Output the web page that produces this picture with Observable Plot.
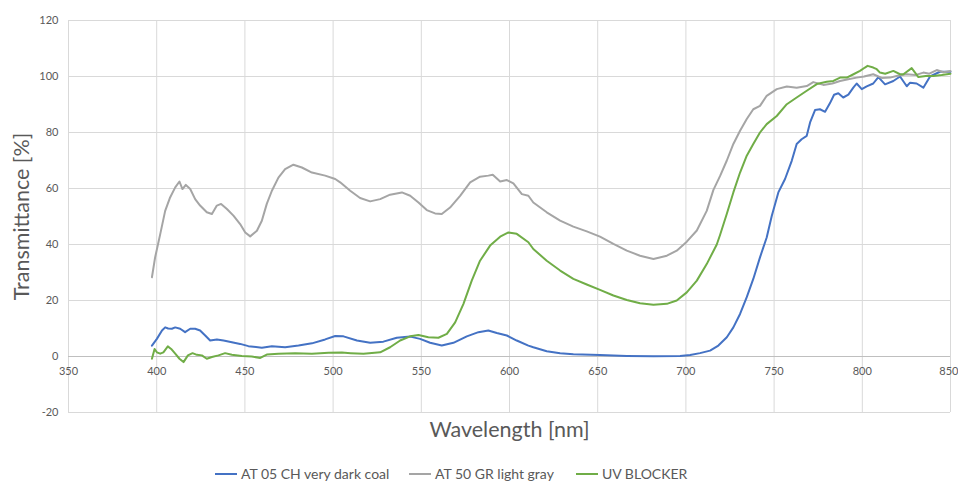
<!DOCTYPE html>
<html>
<head>
<meta charset="utf-8">
<script src="https://cdn.jsdelivr.net/npm/d3@7"></script>
<script src="https://cdn.jsdelivr.net/npm/@observablehq/plot@0.6"></script>
<style>
  html, body { margin: 0; padding: 0; background: #ffffff; }
  #wrap { width: 958px; height: 483px; position: relative; font-family: Lato, "Open Sans", sans-serif; }
  #chart svg { display: block; }
  #legend { position: relative; width: 958px; height: 28px; }
  .item { position: absolute; top: 10px; display: flex; align-items: center; font-size: 14px; color: #595959; white-space: nowrap; }
  .swatch { display: inline-block; width: 22px; height: 2px; margin-right: 4px; }
</style>
</head>
<body>
<div id="wrap">
  <div id="chart"></div>
  <div id="legend"></div>
</div>
<script>
// ---- Axis ticks ----
const wavelengthTicks = [350, 400, 450, 500, 550, 600, 650, 700, 750, 800, 850];
const transmittanceTicks = [-20, 0, 20, 40, 60, 80, 100, 120];
const xLabel = "Wavelength [nm]";
const yLabel = "Transmittance [%]";

// ---- Series names & colours ----
const seriesNames = ["AT 05 CH very dark coal", "AT 50 GR light gray", "UV BLOCKER"];
const seriesColors = ["#4472C4", "#A5A5A5", "#70AD47"];

// ---- AT 05 CH very dark coal ----
const coalNm = [397.3,400.1,403,404.8,406.5,408.6,410.5,413.3,416.1,419,421.8,424.6,427.5,430.3,434.1,437.9,442.6,447.3,452,459.6,465.3,472.8,480.4,488,495.5,501.2,505.9,513.5,521,528.5,536.1,543.7,549.3,555,561.6,568.2,575.8,582.4,588,592.8,598.5,604.1,610.7,613.5,621.1,628.7,636.2,651.3,666.5,681.6,696.7,702.4,708,713.7,718.4,723.2,726.9,730.7,734.5,738.2,742,745.8,748.7,752.4,756.2,760,762.8,765.6,768.5,770.4,773.2,776,778.9,781.7,784,786.4,789.2,792.1,794.9,796.8,799.7,802.5,806.2,809.1,812.9,817.6,821.4,825.2,827.1,830.8,834.6,838.4,844,850];
const coalT = [3.9,6.3,9.3,10.4,10,9.9,10.4,9.9,8.7,9.9,9.9,9.3,7.5,5.7,6.1,5.7,5.1,4.5,3.7,3.1,3.7,3.3,3.9,4.7,6.1,7.3,7.2,5.7,4.9,5.3,6.7,7.1,6.3,4.9,3.9,4.9,7.2,8.7,9.3,8.4,7.5,5.7,3.9,3.3,1.9,1.2,0.8,0.5,0.2,0.1,0.2,0.5,1.2,2.1,3.9,6.9,10.4,15.2,21.2,27.7,35.4,42.5,50.3,58.6,63.4,69.9,75.9,77.6,78.8,83.6,88,88.3,87.4,90.5,93.5,94,92.5,93.5,96,97.5,95.5,96.5,97.5,99.8,97.2,98.4,100,96.5,97.8,97.5,96,100,101.7,101.7];

// ---- AT 50 GR light gray ----
const grayNm = [397.3,399.1,402,404.8,407.6,410.5,412.9,414.6,416.5,419,421.8,424.6,428.4,431.3,434.1,436.5,439.8,443.5,447.3,450.2,453,456.8,459.6,462.4,465.3,469,472.8,477.5,482.3,488,495.5,501.2,504,509.7,515.3,521,526.7,532.3,539,543.7,548.4,553.1,557.8,561.6,566.3,572,577.7,583.3,588,590.5,594.7,598.5,602.2,607,610.7,613.5,621.1,628.7,636.2,643.8,651.3,658.9,666.5,674,681.6,689.2,694.8,700.5,706.2,711.8,715.6,719.4,723.2,726.9,730.7,734.5,738.2,742,745.8,751.5,757.2,762.8,768.5,772.2,777.9,783,787.4,792,796.8,801,806.2,811,815.7,820,825.2,830,834.6,838,842.2,846,850];
const grayT = [28.3,35.4,43.7,52,56.8,60.4,62.5,59.8,61.3,59.8,56.2,53.9,51.5,50.9,53.9,54.5,52.7,50.3,47.3,44.3,42.9,44.9,48.5,54.5,59.2,63.9,66.9,68.5,67.5,65.7,64.6,63.4,62.2,59.2,56.6,55.4,56.2,57.8,58.6,57.4,55,52.3,51.1,50.9,53.2,57.4,62.2,64.2,64.6,64.9,62.5,63,61.8,58,57.4,55,51.5,48.5,46.4,44.7,42.8,40.2,37.8,36,34.8,36,37.8,41,45,52,59.5,64.5,70,75.9,80.6,84.8,88.3,89.5,93.1,95.5,96.4,96,96.6,98,97,97.5,98.4,99,99.6,100,100.8,99.5,99.6,100.3,100.8,100.5,101.4,101,102.3,101.5,102];

// ---- UV BLOCKER ----
const uvNm = [397.3,398.8,400.1,402,403.8,406.3,408.2,410.5,412.9,415.2,417.7,420.3,422.8,425.6,428.4,431.3,435,438.8,442.6,448.3,453.9,458.7,462.4,469,478.5,488,497.4,505,510,517.2,526.7,532.3,538,543.7,548.4,554,559.7,564.5,569.2,573.9,578.6,583.3,589,594.7,599.4,604.1,610.7,613.5,621.1,628.7,636.2,643.8,651.3,658.9,666.5,674,681.6,689.2,694.8,700.5,706.2,711.8,717.5,719.4,723.2,726.9,730.7,734.5,738.2,742,745.8,751.5,757.2,762.8,768.5,774.2,779.8,783.6,787.4,791.2,795,798.7,801.5,803,806.2,808.2,810,813,817.6,821.4,823.3,828,831.8,836,840.3,845,850];
const uvT = [-0.8,2.7,1.5,1,1.5,3.6,2.7,1,-0.8,-2,0.4,1.2,0.6,0.4,-0.8,-0.2,0.4,1.2,0.6,0.2,0,-0.5,0.7,1,1.2,1,1.3,1.4,1.2,1,1.5,3.3,5.7,7.2,7.7,6.9,6.7,8.1,12.2,18.8,27.1,34.2,39.6,42.8,44.3,43.8,40.8,38.4,34.2,30.7,27.7,25.7,23.8,21.8,20.2,19,18.5,18.8,20,22.9,27.1,33,40,43.5,51,58.6,65.7,71.7,75.9,80,83,85.9,90.1,92.5,94.9,97.3,98.1,98.4,99.6,99.6,100.8,102,103.2,103.8,103.2,102.6,101.4,101,102,100.8,100.8,103,99.8,100.2,100.2,100.5,101];

// ---- Build table ----
const seriesData = [[coalNm, coalT], [grayNm, grayT], [uvNm, uvT]];
const rows = [];
seriesData.forEach(([nm, t], s) => nm.forEach((x, i) => rows.push({series: seriesNames[s], nm: x, t: t[i]})));

const labelColor = "#595959";
const lastTick = wavelengthTicks[wavelengthTicks.length - 1];
const chart = Plot.plot({
  width: 958,
  height: 455,
  marginLeft: 68,
  marginRight: 8,
  marginTop: 20,
  marginBottom: 43,
  style: {fontFamily: "Lato, 'Open Sans', sans-serif", background: "#ffffff"},
  x: {domain: [350, 850], axis: null},
  y: {domain: [-20, 120], axis: null},
  color: {domain: seriesNames, range: seriesColors},
  marks: [
    Plot.ruleX(wavelengthTicks, {stroke: "#D9D9D9", strokeWidth: 1}),
    Plot.ruleY(transmittanceTicks.filter(d => d !== 0), {stroke: "#D9D9D9", strokeWidth: 1}),
    Plot.ruleY([0], {stroke: "#BFBFBF", strokeWidth: 1}),
    Plot.text(transmittanceTicks, {x: 350, y: d => d, text: d => String(d), textAnchor: "end", dx: -10, fill: labelColor, fontSize: 11}),
    Plot.text(wavelengthTicks.filter(d => d !== lastTick), {x: d => d, y: 0, text: d => String(d), dy: 15, fill: labelColor, fontSize: 11}),
    Plot.text([lastTick], {x: d => d, y: 0, text: d => String(d), dy: 15, textAnchor: "end", dx: 8, fill: labelColor, fontSize: 11}),
    Plot.line(rows, {x: "nm", y: "t", z: "series", stroke: "series", strokeWidth: 2, curve: "linear"}),
    Plot.text([xLabel], {frameAnchor: "bottom", lineAnchor: "middle", textAnchor: "middle", dy: 18, fontSize: 21.5, fill: labelColor}),
    Plot.text([yLabel], {frameAnchor: "left", textAnchor: "middle", lineAnchor: "middle", rotate: -90, dx: -46, fontSize: 21.5, fill: labelColor})
  ]
});
document.getElementById("chart").appendChild(chart);

// ---- Legend ----
const legendLeft = [215, 409, 576];
const legend = document.getElementById("legend");
seriesNames.forEach((name, i) => {
  const item = document.createElement("div");
  item.className = "item";
  item.style.left = legendLeft[i] + "px";
  const sw = document.createElement("span");
  sw.className = "swatch";
  sw.style.background = seriesColors[i];
  const tx = document.createElement("span");
  tx.textContent = name;
  item.appendChild(sw);
  item.appendChild(tx);
  legend.appendChild(item);
});
</script>
</body>
</html>
